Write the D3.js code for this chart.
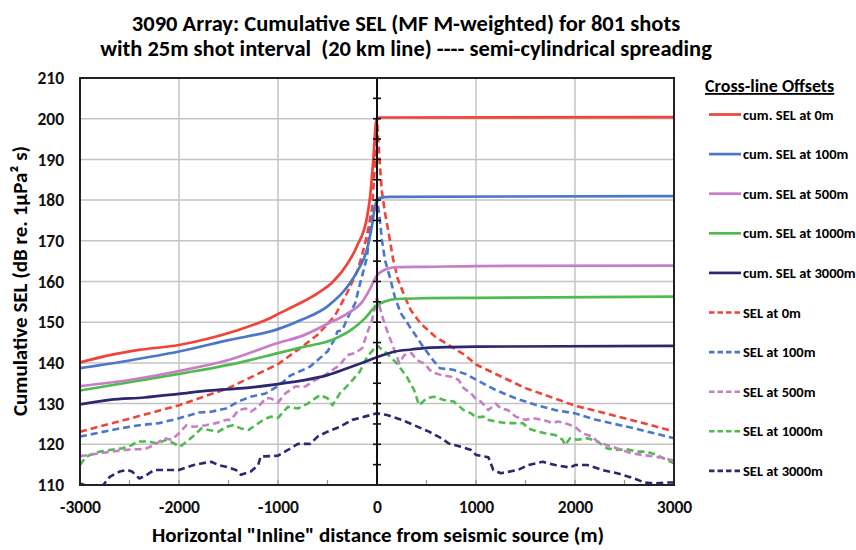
<!DOCTYPE html>
<html>
<head>
<meta charset="utf-8">
<script src="https://cdn.jsdelivr.net/npm/d3@7"></script>
<style>
  body { margin: 0; background: #fff; }
  svg { display: block; font-family: Carlito, Lato, "Open Sans", sans-serif; font-weight: bold; }
</style>
</head>
<body>
<svg id="chart" width="856" height="550"></svg>
<script>
// tick values
var xTicks = [-3000, -2000, -1000, 0, 1000, 2000, 3000];
var yTicks = [110, 120, 130, 140, 150, 160, 170, 180, 190, 200, 210];

// cumulative SEL, solid lines  [inline distance (m), dB]
var cum0 = [[-3000,140.1],[-2700,141.9],[-2400,143.2],[-2000,144.4],[-1700,146.0],[-1400,148.1],[-1100,150.8],[-1000,152.0],
  [-800,154.4],[-600,157.1],[-450,159.8],[-300,164.3],[-200,168.8],[-100,175.9],[-70,180.8],[-40,189],[-10,199.2],[0,200.1],
  [25,200.3],[3000,200.4]];
var cum100 = [[-3000,138.7],[-2500,140.6],[-2000,142.8],[-1500,145.6],[-1000,148.3],[-750,150.7],[-500,153.9],[-300,158.7],
  [-200,162.5],[-100,168.0],[-50,173.8],[-20,178.5],[0,180.0],[25,180.5],[130,180.8],[3000,181.0]];
var cum500 = [[-3000,134.3],[-2500,135.8],[-2000,138.0],[-1500,140.7],[-1000,144.9],[-750,146.7],[-500,149.6],[-300,152.1],
  [-150,155.0],[-60,158.7],[-10,161.2],[80,162.9],[180,163.5],[500,163.6],[1000,163.8],[3000,163.9]];
var cum1000 = [[-3000,133.2],[-2000,137.3],[-1500,139.5],[-1000,142.4],[-750,143.9],[-450,145.7],[-250,148.3],[-120,151.0],
  [-20,153.8],[80,155.1],[200,155.7],[500,155.9],[1000,156.0],[3000,156.3]];
var cum3000 = [[-3000,129.8],[-2700,130.9],[-2350,131.5],[-2000,132.4],[-1700,133.2],[-1350,133.8],[-1000,134.8],[-750,135.7],
  [-500,137.0],[-300,138.7],[-120,140.3],[10,141.5],[180,142.8],[350,143.3],[500,143.7],[750,143.9],[1000,144.0],[3000,144.2]];

// per-shot SEL, dashed lines
var sel0 = [[-3000,123.1],[-2500,126.3],[-2000,129.6],[-1500,133.8],[-1000,139.7],[-800,143.2],[-600,146.9],[-425,151.6],
  [-300,157.3],[-200,162.5],[-150,166.5],[-100,171.5],[-50,178],[-25,187],[0,200],[25,190],[50,182],[80,177],[130,170.2],
  [160,165.8],[210,160.6],[280,156.3],[340,153.0],[440,149.7],[590,146.4],[750,144.0],[890,141.9],[1000,139.6],[1500,133.8],
  [2000,129.5],[2500,126.4],[3000,123.2]];
var sel100 = [[-3000,121.9],[-2800,122.9],[-2600,123.9],[-2400,124.7],[-2200,125.2],[-2000,126.4],[-1800,127.8],[-1675,128.0],
  [-1525,128.8],[-1400,130.5],[-1275,131.7],[-1125,132.5],[-1000,134.3],[-875,136.9],[-675,139.1],[-500,142.8],[-425,146.0],
  [-400,147.7],[-350,148.1],[-275,152.2],[-220,154.7],[-170,159.6],[-100,166],[-70,174.4],[-25,178],[0,180.5],[25,176],
  [50,170.2],[80,165.3],[130,161.1],[180,156.2],[240,152.2],[290,150.5],[330,148.9],[400,146.4],[465,144.0],[565,140.7],
  [635,138.7],[770,138.3],[900,137.2],[1000,135.9],[1200,133.3],[1400,131.3],[1600,129.7],[1800,128.4],[2000,127.6],
  [2200,126.1],[2400,125.0],[2600,123.9],[2800,122.7],[3000,121.5]];
var sel500 = [[-3000,117.1],[-2900,117.4],[-2800,117.8],[-2675,118.2],[-2550,118.6],[-2450,118.8],[-2350,118.8],[-2250,119.8],
  [-2150,121.5],[-2075,121.1],[-2000,122.7],[-1925,124.7],[-1850,124.3],[-1725,124.7],[-1625,125.2],[-1525,126.0],[-1475,126.0],
  [-1400,128.4],[-1325,128.8],[-1275,128.0],[-1200,129.2],[-1125,131.3],[-1075,131.3],[-1000,130.3],[-925,132.5],[-825,134.2],
  [-725,134.2],[-625,135.8],[-525,137.0],[-475,137.8],[-375,139.5],[-300,141.9],[-225,142.4],[-150,143.6],[-100,147.3],
  [-50,150.5],[0,156],[75,149.7],[125,146.4],[175,143.2],[225,139.9],[275,141.9],[350,142.4],[400,140.7],[475,139.9],
  [550,137.8],[650,137.0],[750,136.6],[825,135.8],[875,133.8],[950,132.5],[1000,131.1],[1050,130.5],[1125,128.4],[1200,130.0],
  [1250,128.8],[1325,128.4],[1400,126.8],[1500,126.0],[1575,126.4],[1675,126.0],[1775,125.2],[1825,125.6],[1900,125.2],
  [2000,124.3],[2075,122.7],[2175,121.9],[2225,120.7],[2325,119.8],[2475,118.6],[2575,117.8],[2675,117.4],[2800,117.0],
  [2900,116.6],[3000,116.0]];
var sel1000 = [[-3000,114.9],[-2950,116.6],[-2900,117.4],[-2800,118.2],[-2700,118.6],[-2575,119.0],[-2475,119.8],[-2425,120.7],
  [-2300,120.7],[-2225,120.2],[-2125,121.1],[-2050,120.2],[-1990,119.4],[-1900,121.1],[-1825,122.7],[-1775,123.9],[-1700,123.5],
  [-1600,123.1],[-1525,124.3],[-1450,124.7],[-1375,123.9],[-1300,123.5],[-1225,124.7],[-1150,126.0],[-1075,126.8],[-1000,126.5],
  [-900,129.2],[-800,128.8],[-700,130.0],[-575,132.1],[-500,131.3],[-450,129.6],[-375,132.5],[-275,135.0],[-175,137.8],
  [-100,141.5],[0,144.3],[100,142.3],[200,139.9],[300,136.6],[375,133.3],[425,129.6],[500,131.3],[575,131.7],[675,130.9],
  [775,130.5],[875,128.4],[950,127.6],[1000,126.6],[1075,126.8],[1125,126.0],[1200,125.6],[1300,125.2],[1400,125.2],
  [1475,125.2],[1525,123.9],[1625,123.1],[1700,122.7],[1800,122.3],[1875,121.1],[1900,119.8],[1950,121.5],[2025,121.1],
  [2125,121.5],[2225,120.7],[2325,119.0],[2425,118.6],[2525,118.8],[2625,118.2],[2725,118.2],[2825,117.4],[2925,116.2],
  [3000,115.3]];
var sel3000 = [[-3000,110.4],[-2900,109.5],[-2775,109.7],[-2700,112.0],[-2600,113.3],[-2525,113.7],[-2475,113.3],[-2400,111.6],
  [-2325,112.5],[-2250,113.7],[-2100,113.7],[-2000,113.7],[-1950,114.1],[-1850,114.9],[-1775,115.3],[-1675,115.7],[-1600,114.9],
  [-1525,114.5],[-1425,113.7],[-1375,112.5],[-1275,113.3],[-1200,114.9],[-1175,117.0],[-1075,117.1],[-1000,117.2],[-900,118.6],
  [-800,120.1],[-675,120.1],[-600,121.9],[-500,123.1],[-375,124.3],[-250,126.0],[-125,126.8],[0,127.6],[100,127.2],[250,126.0],
  [375,124.7],[525,123.1],[650,121.5],[725,120.2],[850,119.4],[950,118.6],[1000,117.4],[1125,116.8],[1175,113.7],[1250,112.9],
  [1425,113.7],[1525,114.9],[1675,115.7],[1800,114.9],[1950,114.3],[2000,114.9],[2125,114.9],[2275,113.7],[2425,112.9],
  [2600,111.6],[2700,110.6],[2800,110.4],[2925,110.6],[3000,110.6]];

var series = [
  {name: "cum. SEL at 0m", data: cum0, color: "#f0443a", dash: false},
  {name: "cum. SEL at 100m", data: cum100, color: "#4a77c8", dash: false},
  {name: "cum. SEL at 500m", data: cum500, color: "#c77ec7", dash: false},
  {name: "cum. SEL at 1000m", data: cum1000, color: "#4fbb4f", dash: false},
  {name: "cum. SEL at 3000m", data: cum3000, color: "#2c2870", dash: false},
  {name: "SEL at 0m", data: sel0, color: "#f0443a", dash: true},
  {name: "SEL at 100m", data: sel100, color: "#4a77c8", dash: true},
  {name: "SEL at 500m", data: sel500, color: "#c77ec7", dash: true},
  {name: "SEL at 1000m", data: sel1000, color: "#4fbb4f", dash: true},
  {name: "SEL at 3000m", data: sel3000, color: "#2c2870", dash: true}
];

var svg = d3.select("#chart");
var pLeft = 80, pRight = 674, pTop = 78, pBottom = 485;

var x = d3.scaleLinear().domain([-3000, 3000]).range([pLeft, pRight]);
var y = d3.scaleLinear().domain([110, 210]).range([pBottom, pTop]);

/* titles
-------------------------------------------------------------------------------- */
svg.append("text").attr("x", 406).attr("y", 31).attr("text-anchor", "middle")
  .attr("font-size", 22.5).text("3090 Array: Cumulative SEL (MF M-weighted) for 801 shots");
svg.append("text").attr("x", 406).attr("y", 56).attr("text-anchor", "middle")
  .attr("font-size", 22.5).attr("xml:space", "preserve")
  .text("with 25m shot interval  (20 km line) ---- semi-cylindrical spreading");

/* grid
-------------------------------------------------------------------------------- */
svg.append("g").selectAll("line").data(yTicks.slice(1, -1)).join("line")
  .attr("x1", pLeft).attr("x2", pRight).attr("y1", d => y(d)).attr("y2", d => y(d))
  .attr("stroke", "#c4c4c4").attr("stroke-width", 1.5);
svg.append("g").selectAll("line").data(xTicks.filter(d => d != 0 && Math.abs(d) != 3000)).join("line")
  .attr("y1", pTop).attr("y2", pBottom).attr("x1", d => x(d)).attr("x2", d => x(d))
  .attr("stroke", "#c4c4c4").attr("stroke-width", 1.5);

// small ticks along the bottom every 500 m
svg.append("g").selectAll("line").data(d3.range(-2500, 3000, 500)).join("line")
  .attr("x1", d => x(d)).attr("x2", d => x(d)).attr("y1", pBottom).attr("y2", pBottom - 5)
  .attr("stroke", "#999").attr("stroke-width", 1.2);

// axes labels
var yAxis = svg.append("g").attr("transform", "translate(" + pLeft + ",0)")
  .call(d3.axisLeft(y).tickValues(yTicks).tickSize(0).tickPadding(16));
var xAxis = svg.append("g").attr("transform", "translate(0," + pBottom + ")")
  .call(d3.axisBottom(x).tickValues(xTicks).tickFormat(d => String(d)).tickSize(0).tickPadding(16));
[yAxis, xAxis].forEach(function(a) {
  a.select(".domain").remove();
  a.attr("font-family", null).attr("font-size", null);
  a.selectAll("text").attr("font-size", 17.5).attr("fill", "#111");
});

svg.append("text").attr("x", 378).attr("y", 542).attr("text-anchor", "middle")
  .attr("font-size", 21).text('Horizontal "Inline" distance from seismic source (m)');
svg.append("text").attr("transform", "translate(27,281) rotate(-90)").attr("text-anchor", "middle")
  .attr("font-size", 21).text("Cumulative SEL (dB re. 1\u00b5Pa\u00b2 s)");

/* curves
-------------------------------------------------------------------------------- */
svg.append("clipPath").attr("id", "plotclip").append("rect")
  .attr("x", pLeft).attr("y", pTop).attr("width", pRight - pLeft).attr("height", pBottom - pTop);

var plot = svg.append("g").attr("clip-path", "url(#plotclip)");

var lineSmooth = d3.line().x(d => x(d[0])).y(d => y(d[1])).curve(d3.curveMonotoneX);
var lineRough = d3.line().x(d => x(d[0])).y(d => y(d[1]));

series.slice().reverse().forEach(function(s) {
  plot.append("path").datum(s.data)
    .attr("fill", "none")
    .attr("stroke", s.color)
    .attr("stroke-width", s.dash ? 2.6 : 2.7)
    .attr("stroke-dasharray", s.dash ? "7,4" : null)
    .attr("stroke-linejoin", "round")
    .attr("d", s.dash ? lineRough : lineSmooth);
});

// centre axis with cross ticks every 5 dB
svg.append("line").attr("x1", x(0)).attr("x2", x(0)).attr("y1", pTop).attr("y2", pBottom)
  .attr("stroke", "#111").attr("stroke-width", 2);
svg.append("g").selectAll("line").data(d3.range(115, 210, 5)).join("line")
  .attr("x1", x(0) - 4).attr("x2", x(0) + 4).attr("y1", d => y(d)).attr("y2", d => y(d))
  .attr("stroke", "#111").attr("stroke-width", 1.6);

// frame
svg.append("rect").attr("x", pLeft).attr("y", pTop).attr("width", pRight - pLeft).attr("height", pBottom - pTop)
  .attr("fill", "none").attr("stroke", "#222").attr("stroke-width", 2);

/* legend
-------------------------------------------------------------------------------- */
svg.append("text").attr("x", 705).attr("y", 92).attr("font-size", 18)
  .attr("text-decoration", "underline").text("Cross-line Offsets");

var leg = svg.append("g").selectAll("g").data(series).join("g")
  .attr("transform", (d, i) => "translate(709," + (114.5 + i * 39.6) + ")");
leg.append("line").attr("x1", 0).attr("x2", 32)
  .attr("stroke", d => d.color).attr("stroke-width", d => d.dash ? 2.6 : 2.7)
  .attr("stroke-dasharray", d => d.dash ? "5.5,3" : null);
leg.append("text").attr("x", 34).attr("dy", "0.35em").attr("font-size", 14.5)
  .text(d => d.name);
</script>
</body>
</html>
